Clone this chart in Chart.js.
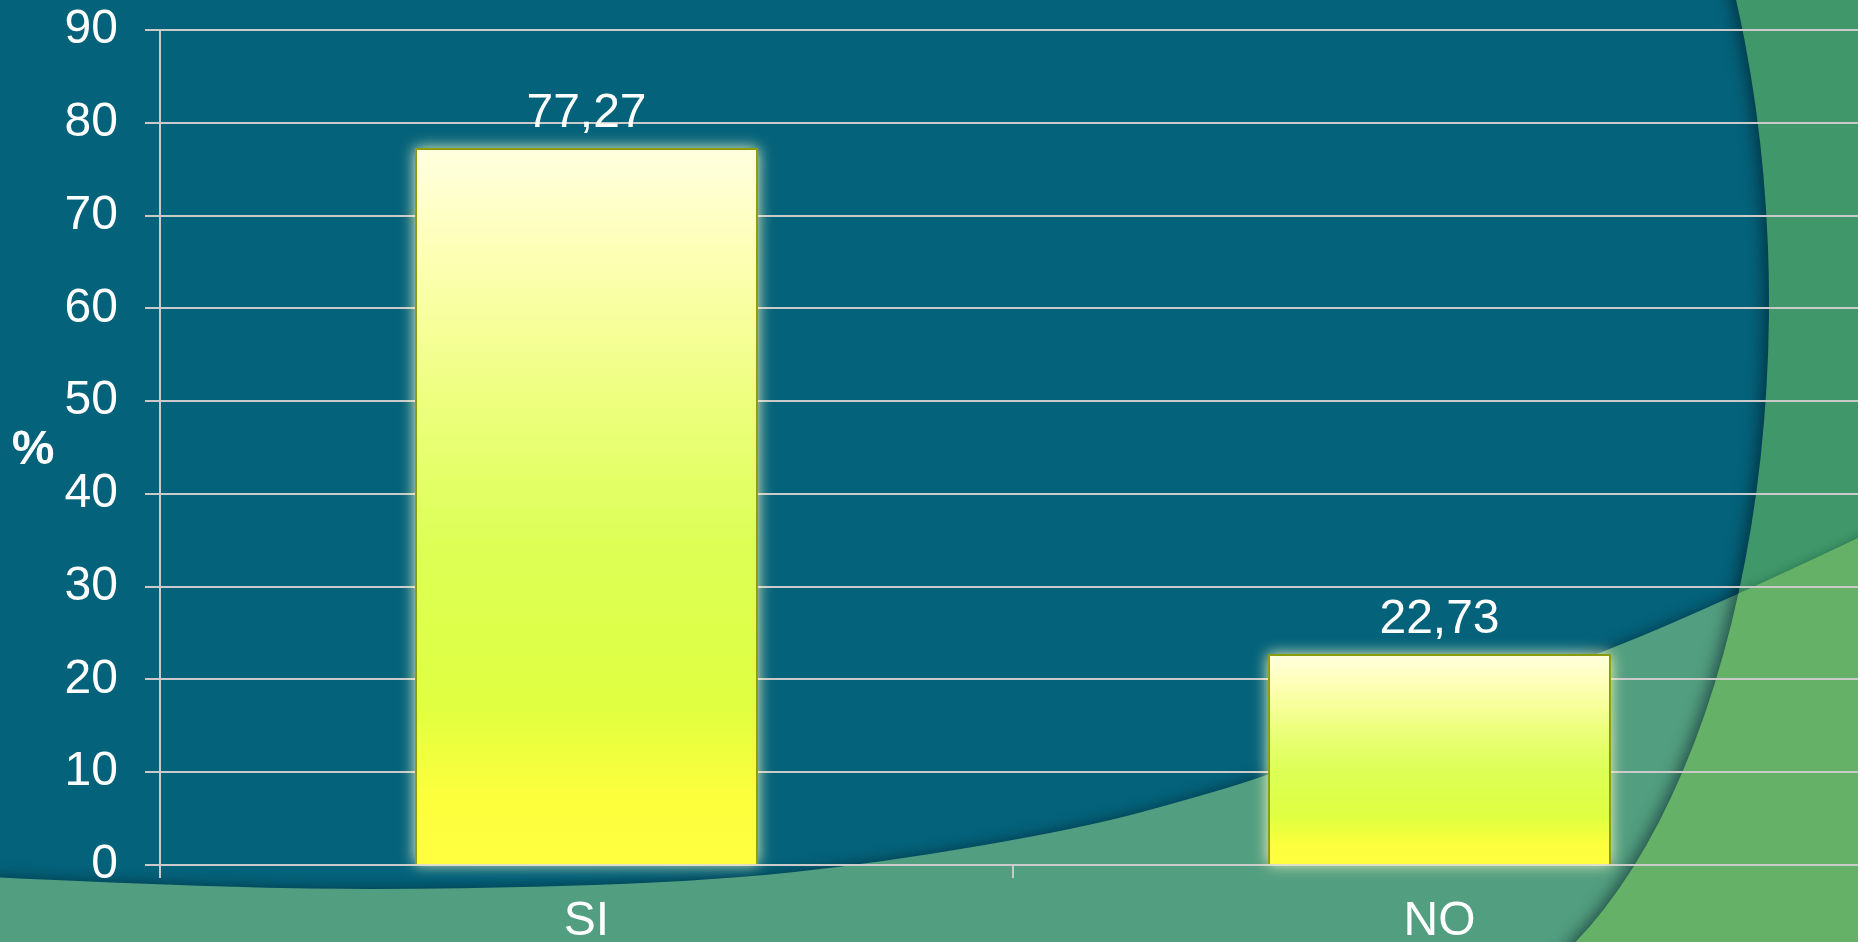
<!DOCTYPE html>
<html>
<head>
<meta charset="utf-8">
<title>SI / NO</title>
<script src="https://cdn.jsdelivr.net/npm/chart.js@4"></script>
<style>
    html, body { margin: 0; padding: 0; background: #04627A; overflow: hidden; }
    #chart { display: block; }
</style>
</head>
<body>
<!-- plot area runs a few px past the right edge, as in the slide -->
<canvas id="chart" width="1866" height="942"></canvas>
<script>
// Data
const categories = ['SI', 'NO'];
const values = [77.27, 22.73];
const yTicks = [0, 10, 20, 30, 40, 50, 60, 70, 80, 90];
const axisTitle = '%';

const FONT = "'Liberation Sans', Arial, sans-serif";
const FONT_SIZE = 48;
const GRID = '#CACACA';

// Background shapes (teal slide with green waves)
const waveEdge = [
    [-10, 877], [200, 887], [420, 890], [700, 882], [880, 863], [1083, 828],
    [1197, 797], [1266, 776], [1440, 712], [1610, 650], [1732, 597], [1858, 538], [1900, 518]
];

function wavePath(ctx) {
    ctx.beginPath();
    ctx.moveTo(waveEdge[0][0], waveEdge[0][1]);
    for (let i = 1; i < waveEdge.length - 1; i++) {
        const mx = (waveEdge[i][0] + waveEdge[i + 1][0]) / 2;
        const my = (waveEdge[i][1] + waveEdge[i + 1][1]) / 2;
        ctx.quadraticCurveTo(waveEdge[i][0], waveEdge[i][1], mx, my);
    }
    const last = waveEdge[waveEdge.length - 1];
    ctx.lineTo(last[0], last[1]);
    ctx.lineTo(1900, 980);
    ctx.lineTo(-10, 980);
    ctx.closePath();
}

function rightPath(ctx) {
    ctx.beginPath();
    ctx.ellipse(1412, 302, 357, 720, 0, -0.47, 1.13, false);
    ctx.lineTo(1900, 980);
    ctx.lineTo(1900, -30);
    ctx.closePath();
}

const backgroundPlugin = {
    id: 'slideBackground',
    beforeDraw(chart) {
        const ctx = chart.ctx;
        ctx.save();
        ctx.fillStyle = '#04627A';
        ctx.fillRect(0, 0, chart.width, chart.height);

        // lower wave over the teal
        ctx.shadowColor = 'rgba(0, 20, 30, 0.55)';
        ctx.shadowBlur = 14;
        wavePath(ctx);
        ctx.fillStyle = '#529E80';
        ctx.fill();

        // green area on the right
        ctx.shadowColor = 'rgba(0, 20, 30, 0.6)';
        ctx.shadowBlur = 16;
        ctx.shadowOffsetX = -4;
        rightPath(ctx);
        ctx.fillStyle = '#3F976A';
        ctx.fill();

        // wave inside the green area
        ctx.shadowOffsetX = 0;
        ctx.shadowColor = 'rgba(0, 30, 20, 0.3)';
        ctx.shadowBlur = 10;
        rightPath(ctx);
        ctx.clip();
        wavePath(ctx);
        ctx.fillStyle = '#65B168';
        ctx.fill();
        ctx.restore();
    }
};

// Glow around the bars (drawn under them, bar elements clip their own shadow)
const glowPlugin = {
    id: 'barGlow',
    beforeDatasetsDraw(chart) {
        const ctx = chart.ctx;
        const meta = chart.getDatasetMeta(0);
        ctx.save();
        ctx.shadowColor = 'rgba(255, 255, 200, 0.95)';
        ctx.shadowBlur = 14;
        ctx.fillStyle = '#F4FF90';
        meta.data.forEach(bar => {
            const p = bar.getProps(['x', 'y', 'base', 'width'], true);
            ctx.fillRect(p.x - p.width / 2, p.y, p.width, p.base - p.y);
        });
        ctx.restore();
    }
};

// Value labels and the upright % title
const labelPlugin = {
    id: 'valueLabels',
    afterDatasetsDraw(chart) {
        const ctx = chart.ctx;
        const meta = chart.getDatasetMeta(0);
        ctx.save();
        ctx.fillStyle = '#FFFFFF';
        ctx.font = FONT_SIZE + 'px ' + FONT;
        ctx.textAlign = 'center';
        ctx.textBaseline = 'alphabetic';
        meta.data.forEach((bar, i) => {
            const txt = values[i].toFixed(2).replace('.', ',');
            ctx.fillText(txt, bar.x, bar.y - 21);
        });
        ctx.font = 'bold ' + FONT_SIZE + 'px ' + FONT;
        ctx.textBaseline = 'middle';
        const area = chart.chartArea;
        ctx.fillText(axisTitle, 33, (area.top + area.bottom) / 2 + 3);
        ctx.restore();
    }
};

function barGradient(context) {
    const chart = context.chart;
    if (!chart.chartArea || !chart.scales.y) return '#E4FF48';
    const y = chart.scales.y;
    const top = y.getPixelForValue(values[context.dataIndex]);
    const bottom = y.getPixelForValue(0);
    const g = chart.ctx.createLinearGradient(0, top, 0, bottom);
    g.addColorStop(0, '#FFFFE0');
    g.addColorStop(0.15, '#FEFFB4');
    g.addColorStop(0.35, '#EDFF7E');
    g.addColorStop(0.55, '#DCFF56');
    g.addColorStop(0.78, '#E0FF40');
    g.addColorStop(0.9, '#FCFF3C');
    g.addColorStop(1, '#FFFF40');
    return g;
}

document.addEventListener('DOMContentLoaded', () => {
    const ctx = document.getElementById('chart').getContext('2d');
    new Chart(ctx, {
        type: 'bar',
        data: {
            labels: categories,
            datasets: [{
                data: values,
                backgroundColor: barGradient,
                borderColor: '#8A9C0C',
                borderWidth: 2,
                barPercentage: 0.402,
                categoryPercentage: 1
            }]
        },
        options: {
            responsive: false,
            devicePixelRatio: 1,
            animation: false,
            layout: { padding: { top: 30, right: 0, left: 0, bottom: 0 } },
            plugins: {
                legend: { display: false },
                tooltip: { enabled: false }
            },
            scales: {
                x: {
                    afterFit: (s) => { s.height = 77; s.paddingLeft = 0; s.paddingRight = 0; },
                    grid: {
                        display: true,
                        drawOnChartArea: false,
                        drawTicks: true,
                        tickLength: 13,
                        color: GRID,
                        lineWidth: 2
                    },
                    border: { display: true, color: GRID, width: 2 },
                    ticks: {
                        color: '#FFFFFF',
                        padding: 15,
                        font: { family: FONT, size: FONT_SIZE }
                    }
                },
                y: {
                    min: 0,
                    max: yTicks[yTicks.length - 1],
                    afterFit: (s) => { s.width = 160; s.paddingTop = 0; s.paddingBottom = 0; },
                    afterBuildTicks: (s) => { s.ticks = yTicks.map(v => ({ value: v })); },
                    grid: {
                        color: GRID,
                        lineWidth: 2,
                        tickLength: 15
                    },
                    border: { display: true, color: GRID, width: 2 },
                    ticks: {
                        color: '#FFFFFF',
                        padding: 27,
                        font: { family: FONT, size: FONT_SIZE }
                    }
                }
            }
        },
        plugins: [backgroundPlugin, glowPlugin, labelPlugin]
    });
});
</script>
</body>
</html>
